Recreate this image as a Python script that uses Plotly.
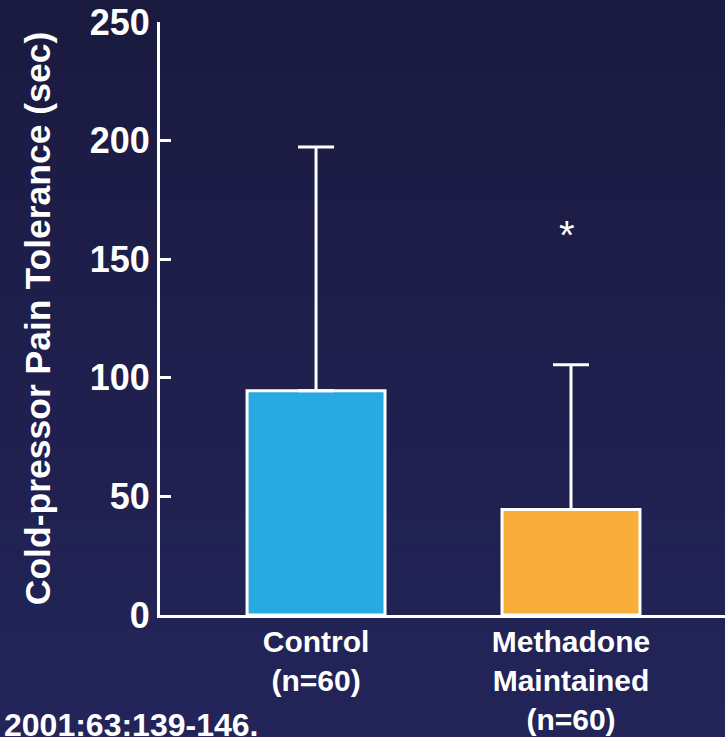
import plotly.graph_objects as go

categories = ["Control<br>(n=60)", "Methadone<br>Maintained<br>(n=60)"]
x_pos = [0, 1]
means = [94.5, 44.5]
sd_plus = [102.8, 61.0]
bar_colors = ["#29a9e1", "#f9ae3c"]
y_ticks = [0, 50, 100, 150, 200, 250]
y_title = "Cold-pressor Pain Tolerance (sec)"
citation = "2001:63:139-146."
sig_mark = "*"
sig_pos = (0.985, 160.0)

FONT = "Liberation Sans, Arial, sans-serif"
L, R, T, B = 160, 0, 22, 122
PW, PH = 725 - L - R, 737 - T - B

fig = go.Figure()
fig.add_trace(go.Bar(
    x=x_pos, y=means, width=0.541,
    marker=dict(color=bar_colors, line=dict(color="white", width=3)),
    error_y=dict(type="data", array=sd_plus, arrayminus=[0, 0], symmetric=False,
                 color="white", thickness=3, width=18),
    showlegend=False, hoverinfo="skip",
))

# background gradient
top = (0x1a, 0x1a, 0x40)
bot = (0x23, 0x25, 0x5a)
n = 40
shapes = []
span = 1.3
for i in range(n):
    t = i / (n - 1)
    c = tuple(round(top[k] + (bot[k] - top[k]) * t) for k in range(3))
    y1 = 1.05 - (span / n) * i
    y0 = y1 - span / n - 0.002
    shapes.append(dict(type="rect", xref="paper", yref="paper", x0=-0.4, x1=1.1,
                       y0=y0, y1=y1, fillcolor="rgb(%d,%d,%d)" % c, line=dict(width=0),
                       layer="below"))

fig.update_layout(
    width=725, height=737,
    margin=dict(l=L, r=R, t=T, b=B, autoexpand=False),
    paper_bgcolor="#1e1f4d", plot_bgcolor="rgba(0,0,0,0)",
    shapes=shapes,
    font=dict(family=FONT, color="white"),
    xaxis=dict(range=[-0.612, 1.604], tickvals=x_pos, ticktext=categories,
               showgrid=False, zeroline=False, showline=True, linecolor="white",
               linewidth=3, ticks="", tickfont=dict(size=30, family=FONT, weight="bold"),
               ticklabelstandoff=-2, automargin=False),
    yaxis=dict(range=[0, 250], tickvals=y_ticks, showgrid=False, zeroline=False,
               showline=True, linecolor="white", linewidth=3, ticks="inside",
               ticklen=11, tickwidth=3, tickcolor="white", automargin=False,
               tickfont=dict(size=36, family=FONT, weight="bold"),
               title=dict(text=y_title, font=dict(size=35.5, family=FONT, weight="bold"),
                          standoff=29)),
    annotations=[
        dict(text=sig_mark, x=sig_pos[0], y=sig_pos[1], xref="x", yref="y",
             showarrow=False, font=dict(size=40, family=FONT, color="white")),
        dict(text=citation, x=-L / PW + 0.004, y=-B / PH - 0.013, xref="paper", yref="paper",
             xanchor="left", yanchor="bottom", showarrow=False,
             font=dict(size=32, family=FONT, color="white", weight="bold")),
    ],
)

fig.write_html("out.html", config={"displayModeBar": False},
               post_script="document.body.style.margin='0';document.body.style.overflow='hidden';")
